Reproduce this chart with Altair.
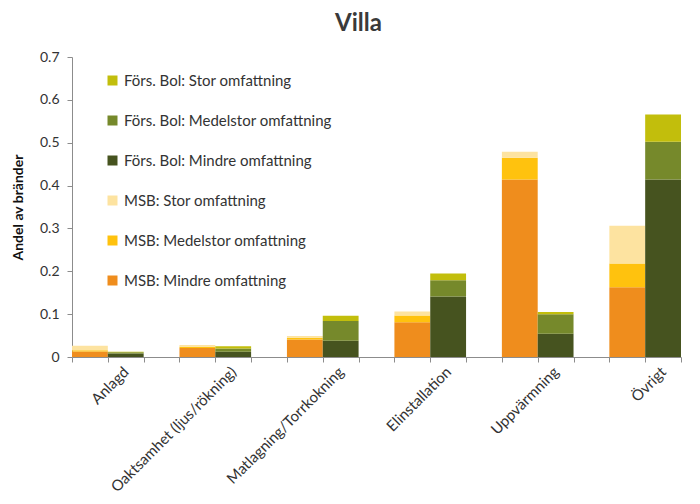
import altair as alt
import pandas as pd

categories = ["Anlagd", "Oaktsamhet (ljus/rökning)", "Matlagning/Torrkokning",
              "Elinstallation", "Uppvärmning", "Övrigt"]
sources = ["MSB", "Förs. Bol"]
sizes = ["Mindre", "Medelstor", "Stor"]

msb_mindre = [0.013, 0.021, 0.041, 0.081, 0.414, 0.163]
msb_medel = [0.003, 0.003, 0.004, 0.016, 0.051, 0.055]
msb_stor = [0.010, 0.004, 0.004, 0.009, 0.014, 0.088]
fors_mindre = [0.008, 0.012, 0.038, 0.141, 0.054, 0.414]
fors_medel = [0.003, 0.008, 0.046, 0.038, 0.046, 0.088]
fors_stor = [0.001, 0.005, 0.012, 0.016, 0.005, 0.064]

y_ticks = [0, 0.1, 0.2, 0.3, 0.4, 0.5, 0.6, 0.7]

legend_order = ["Förs. Bol: Stor omfattning", "Förs. Bol: Medelstor omfattning",
                "Förs. Bol: Mindre omfattning", "MSB: Stor omfattning",
                "MSB: Medelstor omfattning", "MSB: Mindre omfattning"]
legend_colors = ["#C2BE0C", "#76892B", "#46531F", "#FDE3A0", "#FFC20E", "#EF8D1D"]

values = {
    ("MSB", "Mindre"): msb_mindre,
    ("MSB", "Medelstor"): msb_medel,
    ("MSB", "Stor"): msb_stor,
    ("Förs. Bol", "Mindre"): fors_mindre,
    ("Förs. Bol", "Medelstor"): fors_medel,
    ("Förs. Bol", "Stor"): fors_stor,
}

rows = []
for (src, sz), vals in values.items():
    for cat, v in zip(categories, vals):
        rows.append({
            "slot": f"{cat}|{src}",
            "series": f"{src}: {sz} omfattning",
            "rank": sizes.index(sz),
            "value": v,
        })
df = pd.DataFrame(rows)

slot_domain = []
for i, cat in enumerate(categories):
    slot_domain += [f"{cat}|MSB", f"{cat}|Förs. Bol"]
    if i < len(categories) - 1:
        slot_domain.append(f"{cat}|gap")

FONT = "Lato"
TXT = "#333333"
AX = "#8c8c8c"

chart = alt.Chart(df).mark_bar().encode(
    x=alt.X(
        "slot:N",
        scale=alt.Scale(domain=slot_domain, paddingInner=0, paddingOuter=0),
        axis=alt.Axis(
            title=None,
            labelExpr="isString(datum.value) && test(/[|]F/, datum.value) ? replace(datum.value, /[|].*$/, '') : ''",
            labelAngle=-45,
            labelAlign="right",
            labelBaseline="middle",
            labelOverlap=False,
            labelFontSize=15,
            labelColor=TXT,
            labelFont=FONT,
            labelPadding=7,
            labelLimit=0,
            tickBand="extent",
            tickSize=5,
            tickColor=AX,
            domainColor=AX,
        ),
    ),
    y=alt.Y(
        "value:Q",
        stack="zero",
        scale=alt.Scale(domain=[0, 0.7], nice=False),
        axis=alt.Axis(
            title="Andel av bränder",
            values=y_ticks,
            format=".1~f",
            grid=False,
            labelFontSize=14,
            labelColor=TXT,
            labelFont=FONT,
            labelPadding=8,
            tickSize=5,
            tickColor=AX,
            domainColor=AX,
            titleFont=FONT,
            titleFontSize=14,
            titleFontWeight="bold",
            titleColor="#111111",
            titlePadding=14,
        ),
    ),
    color=alt.Color(
        "series:N",
        scale=alt.Scale(domain=legend_order, range=legend_colors),
        legend=alt.Legend(
            orient="none",
            legendX=33,
            legendY=16,
            title=None,
            symbolType="square",
            symbolSize=100,
            symbolStrokeWidth=0,
            labelFontSize=15,
            labelFont=FONT,
            labelColor=TXT,
            labelLimit=0,
            rowPadding=24,
        ),
    ),
    order=alt.Order("rank:Q"),
).properties(
    width=609,
    height=300,
    title=alt.TitleParams("Villa", fontSize=24, font=FONT, fontWeight="bold",
                          color="#3a3a3a", offset=14, dx=-18),
    autosize=alt.AutoSizeParams(type="none"),
    padding={"left": 72, "top": 57, "right": 19, "bottom": 147},
    background="white",
).configure_view(stroke=None)

chart.save("out.html", embed_options={"renderer": "svg", "actions": False})
